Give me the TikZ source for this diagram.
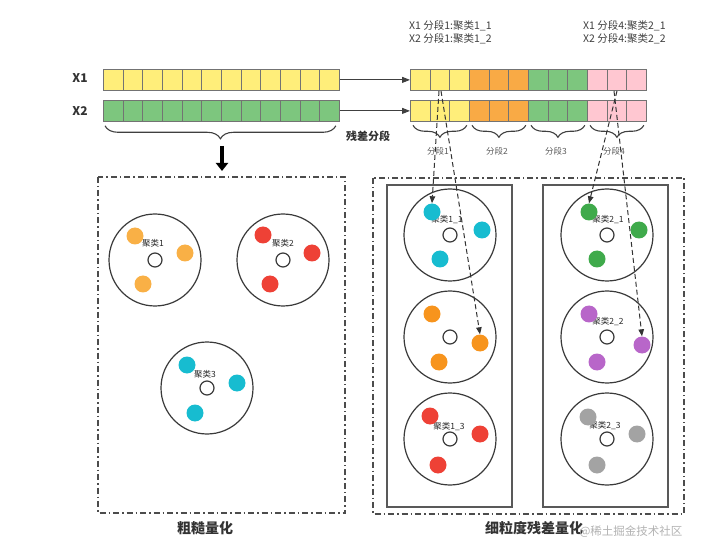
\documentclass[tikz,border=0pt]{standalone}
\usepackage{fontspec}
\setmainfont{Noto Sans CJK SC}
\usetikzlibrary{arrows.meta,decorations.pathreplacing,calc}
\definecolor{cYel}{HTML}{FFEE7A}
\definecolor{cGrn}{HTML}{7DC67E}
\definecolor{cOrg}{HTML}{F9AA45}
\definecolor{cPnk}{HTML}{FFC7D1}
\definecolor{dOrgL}{HTML}{F9B046}
\definecolor{dRed}{HTML}{EE4136}
\definecolor{dCyan}{HTML}{17BCD0}
\definecolor{dOrg}{HTML}{F7941D}
\definecolor{dGrn}{HTML}{3FAA4B}
\definecolor{dPur}{HTML}{B866C9}
\definecolor{dGry}{HTML}{A3A3A3}
\definecolor{lineC}{HTML}{3A3A3A}
\tikzset{
  cell/.style={draw=black!55, line width=0.8pt, minimum width=19.67pt, minimum height=21pt, inner sep=0pt, anchor=north west},
  bigc/.style={circle, draw=lineC, line width=1.2pt, minimum size=92pt, inner sep=0pt},
  ctr/.style={circle, draw=lineC, line width=1.2pt, fill=white, minimum size=14pt, inner sep=0pt},
  dot/.style={circle, fill=#1, minimum size=17pt, inner sep=0pt},
  clab/.style={font=\fontsize{8.5}{10}\selectfont, text=black!85, inner sep=0pt},
  seglab/.style={font=\fontsize{8.5}{10}\selectfont, text=black!65, inner sep=0pt},
  toplab/.style={font=\fontsize{10.5}{13}\selectfont, text=black!75, align=left, anchor=north west, inner sep=0pt},
  dashbox/.style={draw=black!70, line width=1.2pt, dash pattern=on 6pt off 3pt on 1.5pt off 3pt},
  solidbox/.style={draw=black!65, line width=1.5pt},
  brc/.style={decorate, decoration={brace, mirror, amplitude=#1}, draw=black!75, line width=1.1pt},
  dash arrow/.style={draw=black!80, line width=1pt, dash pattern=on 5pt off 3pt, -{Triangle[length=7pt,width=5.5pt]}},
  solid arrow/.style={draw=black!75, line width=1pt, -{Triangle[length=8pt,width=6pt]}},
  xlab/.style={font=\bfseries\fontsize{12}{14}\selectfont, text=black!80},
  title/.style={font=\bfseries\fontsize{14}{16}\selectfont, text=black!80}
}
\begin{document}
\begin{tikzpicture}[x=1pt,y=-1pt]
\useasboundingbox (0,0) rectangle (702,556);

% row labels
\node[xlab] (lx1) at (80,78) {X1};
\node[xlab] (lx2) at (80,111) {X2};

% left bars
\foreach \i in {0,...,11} {
  \node[cell, fill=cYel] (L1c\i) at ({103+\i*19.67},69) {};
  \node[cell, fill=cGrn] (L2c\i) at ({103+\i*19.67},100) {};
}
% right bars
\foreach \i/\c in {0/cYel,1/cYel,2/cYel,3/cOrg,4/cOrg,5/cOrg,6/cGrn,7/cGrn,8/cGrn,9/cPnk,10/cPnk,11/cPnk} {
  \node[cell, fill=\c] (R1c\i) at ({410+\i*19.67},69) {};
  \node[cell, fill=\c] (R2c\i) at ({410+\i*19.67},100.5) {};
}
\draw[solid arrow] (L1c11.east) -- (L1c11.east -| R1c0.west);
\draw[solid arrow] (L2c11.east) -- (L2c11.east -| R2c0.west);

% top texts
\node[toplab] (t1) at (409,20) {X1 分段1:聚类1\_1\\X2 分段1:聚类1\_2};
\node[toplab] (t2) at (583,20) {X1 分段4:聚类2\_1\\X2 分段4:聚类2\_2};

% left brace
\draw[brc=13pt] ([shift={(2,4)}]L2c0.south west) -- ([shift={(-4,4)}]L2c11.south east);
\node[font=\bfseries\fontsize{11}{13}\selectfont, text=black!80] (resseg) at (368,136) {残差分段};
\coordinate (ta) at (222,146);
\coordinate (tb) at (222,171);
\draw[line width=3.5pt, draw=black, -{Triangle[length=8pt,width=12pt]}] (ta) -- (tb);

% right braces
\foreach \g/\a/\b in {1/0/2,2/3/5,3/6/8,4/9/11} {
  \draw[brc=12pt] ([shift={(3,3)}]R2c\a.south west) -- ([shift={(-3,3)}]R2c\b.south east);
}
\node[seglab] (s1) at (438,151) {分段1};
\node[seglab] (s2) at (497,151) {分段2};
\node[seglab] (s3) at (556,151) {分段3};
\node[seglab] (s4) at (614,151) {分段4};

% left dash box
\draw[dashbox] (98,177) rectangle (345,513);
\node[title] (tl) at (205,528) {粗糙量化};

% left clusters
\node[bigc] (C1) at (155,260) {};
\node[ctr] (C1c) at (155,260) {};
\node[clab] (C1l) at (153,243) {聚类1};
\node[dot=dOrgL] (C1a) at (135,236) {};
\node[dot=dOrgL] (C1b) at (185,253) {};
\node[dot=dOrgL] (C1d) at (143,284) {};

\node[bigc] (C2) at (283,260) {};
\node[ctr] (C2c) at (283,260) {};
\node[clab] (C2l) at (283,243) {聚类2};
\node[dot=dRed] (C2a) at (263,235) {};
\node[dot=dRed] (C2b) at (312,253) {};
\node[dot=dRed] (C2d) at (270,284) {};

\node[bigc] (C3) at (207,388) {};
\node[ctr] (C3c) at (207,388) {};
\node[clab] (C3l) at (205,374) {聚类3};
\node[dot=dCyan] (C3a) at (187,365) {};
\node[dot=dCyan] (C3b) at (237,383) {};
\node[dot=dCyan] (C3d) at (195,413) {};

% right dash box and inner boxes
\draw[dashbox] (373,178) rectangle (684,514);
\draw[solidbox] (387,185) rectangle (512,507);
\draw[solidbox] (543,185) rectangle (668,507);
\node[title] (tr) at (534,528) {细粒度残差量化};
\node[font=\fontsize{11.5}{13}\selectfont, text=black!30, anchor=east] (wm) at (686,532) {@稀土掘金技术社区};

% right column 1
\node[bigc] (D11) at (450,235) {};
\node[ctr] (D11c) at (450,235) {};
\node[clab] (D11l) at (447,220) {聚类1\_1};
\node[dot=dCyan] (D11a) at (432,212) {};
\node[dot=dCyan] (D11b) at (482,230) {};
\node[dot=dCyan] (D11d) at (440,259) {};

\node[bigc] (D12) at (450,337) {};
\node[ctr] (D12c) at (450,337) {};
\node[dot=dOrg] (D12a) at (432,314) {};
\node[dot=dOrg] (D12b) at (480,343) {};
\node[dot=dOrg] (D12d) at (439,362) {};

\node[bigc] (D13) at (450,439) {};
\node[ctr] (D13c) at (450,439) {};
\node[clab] (D13l) at (449,427) {聚类1\_3};
\node[dot=dRed] (D13a) at (430,416) {};
\node[dot=dRed] (D13b) at (480,434) {};
\node[dot=dRed] (D13d) at (438,465) {};

% right column 2
\node[bigc] (D21) at (607,235) {};
\node[ctr] (D21c) at (607,235) {};
\node[clab] (D21l) at (608,220) {聚类2\_1};
\node[dot=dGrn] (D21a) at (589,212) {};
\node[dot=dGrn] (D21b) at (639,230) {};
\node[dot=dGrn] (D21d) at (597,259) {};

\node[bigc] (D22) at (607,337) {};
\node[ctr] (D22c) at (607,337) {};
\node[clab] (D22l) at (608,322) {聚类2\_2};
\node[dot=dPur] (D22a) at (589,314) {};
\node[dot=dPur] (D22b) at (642,345) {};
\node[dot=dPur] (D22d) at (597,362) {};

\node[bigc] (D23) at (607,439) {};
\node[ctr] (D23c) at (607,439) {};
\node[clab] (D23l) at (605,426) {聚类2\_3};
\node[dot=dGry] (D23a) at (588,417) {};
\node[dot=dGry] (D23b) at (637,434) {};
\node[dot=dGry] (D23d) at (597,465) {};

% dashed arrows
\coordinate (p1) at (439,91);
\coordinate (p2) at (441,91);
\coordinate (p3) at (617,91);
\coordinate (p4) at (614,91);
\draw[dash arrow] (p1) -- (D11a.north);
\draw[dash arrow] (p2) -- (D12b.north);
\draw[dash arrow] (p3) -- (D21a.north);
\draw[dash arrow] (p4) -- (D22b.north);
\end{tikzpicture}
\end{document}
